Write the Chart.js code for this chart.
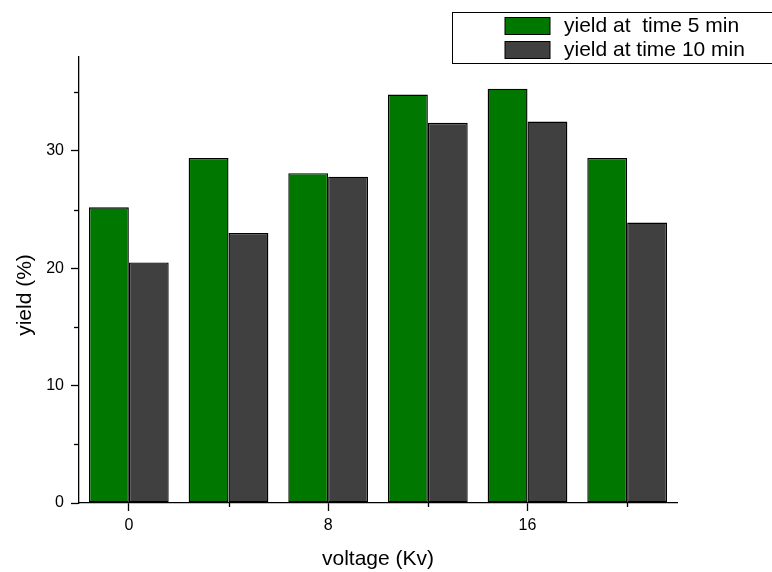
<!DOCTYPE html>
<html>
<head>
<meta charset="utf-8">
<script src="https://cdn.jsdelivr.net/npm/chart.js@4/dist/chart.umd.min.js"></script>
<style>
  html, body { margin: 0; padding: 0; background: #fff; }
  #wrap { width: 772px; height: 572px; }
</style>
</head>
<body>
<div id="wrap"><canvas id="yieldChart" width="772" height="572"></canvas></div>
<script>
// voltage categories (Kv) and yields (%)
const voltages = ['0', '4', '8', '12', '16', '20'];
const yield5min = [25.2, 29.4, 28.1, 34.8, 35.3, 29.4];
const yield10min = [20.5, 23.0, 27.8, 32.4, 32.5, 23.9];
const seriesLabels = ['yield at  time 5 min', 'yield at time 10 min'];
const seriesColors = ['#007800', '#404040'];
const yTicks = [0, 5, 10, 15, 20, 25, 30, 35];

const FONT = '"Liberation Sans", Arial, sans-serif';

// minor tick marks, box legend and y title
const extras = {
  id: 'extras',
  afterDraw(chart) {
    const ctx = chart.ctx;
    const x = chart.scales.x, y = chart.scales.y;
    ctx.save();
    ctx.strokeStyle = '#000';
    ctx.lineWidth = 1.3;
    // minor y ticks
    yTicks.forEach(v => {
      if (v % 10 === 0) return;
      const py = Math.round(y.getPixelForValue(v)) + 0.5;
      ctx.beginPath();
      ctx.moveTo(x.left - 5, py);
      ctx.lineTo(x.left, py);
      ctx.stroke();
    });
    // minor x ticks
    voltages.forEach((v, i) => {
      if (i % 2 === 0) return;
      const px = Math.round(x.getPixelForValue(i)) + 0.5;
      ctx.beginPath();
      ctx.moveTo(px, y.bottom);
      ctx.lineTo(px, y.bottom + 4);
      ctx.stroke();
    });

    // legend box
    ctx.lineWidth = 1;
    ctx.strokeStyle = '#000';
    ctx.strokeRect(452.5, 12.5, 340, 51);
    ctx.font = '21px ' + FONT;
    ctx.textBaseline = 'middle';
    ctx.textAlign = 'left';
    chart.data.datasets.forEach((ds, i) => {
      const top = 17.5 + i * 24;
      ctx.fillStyle = ds.backgroundColor;
      ctx.fillRect(505, top, 45, 17);
      ctx.strokeStyle = '#000';
      ctx.strokeRect(505, top, 45, 17);
      ctx.fillStyle = '#000';
      ctx.fillText(ds.label, 564, top + 9);
    });

    // y axis title
    ctx.translate(25, 295);
    ctx.rotate(-Math.PI / 2);
    ctx.textAlign = 'center';
    ctx.fillText('yield (%)', 0, 0);
    ctx.restore();
  }
};

new Chart(document.getElementById('yieldChart'), {
  type: 'bar',
  data: {
    labels: voltages,
    datasets: [
      {
        label: seriesLabels[0],
        data: yield5min,
        backgroundColor: seriesColors[0],
        borderColor: '#000',
        borderWidth: 1.4,
        borderSkipped: false,
        categoryPercentage: 0.8,
        barPercentage: 1.0
      },
      {
        label: seriesLabels[1],
        data: yield10min,
        backgroundColor: seriesColors[1],
        borderColor: '#000',
        borderWidth: 1.4,
        borderSkipped: false,
        categoryPercentage: 0.8,
        barPercentage: 1.0
      }
    ]
  },
  options: {
    responsive: false,
    animation: false,
    devicePixelRatio: 1,
    layout: { padding: { top: 57, right: 95, bottom: 0, left: 0 } },
    plugins: {
      legend: { display: false },
      tooltip: { enabled: false }
    },
    scales: {
      x: {
        grid: {
          display: true,
          offset: false,
          drawOnChartArea: false,
          tickLength: 8,
          tickWidth: 1.3,
          tickColor: c => (c.index % 2 === 0 ? '#000' : 'rgba(0,0,0,0)')
        },
        border: { display: true, color: '#000', width: 1.3 },
        ticks: {
          color: '#000',
          font: { family: FONT, size: 16 },
          padding: 5,
          maxRotation: 0,
          autoSkip: false,
          callback: (v, i) => (i % 2 === 0 ? voltages[i] : '')
        },
        title: {
          display: true,
          text: 'voltage (Kv)',
          color: '#000',
          font: { family: FONT, size: 21 },
          padding: { top: 0, bottom: 0 }
        },
        afterFit: s => { s.height = 69; }
      },
      y: {
        min: 0,
        max: 38,
        grid: {
          display: true,
          drawOnChartArea: false,
          tickLength: 8,
          tickWidth: 1.3,
          tickColor: c => (c.tick && c.tick.value % 10 === 0 ? '#000' : 'rgba(0,0,0,0)')
        },
        border: { display: true, color: '#000', width: 1.3 },
        ticks: {
          color: '#000',
          font: { family: FONT, size: 16 },
          padding: 7,
          callback: v => (v % 10 === 0 ? String(v) : '')
        },
        afterBuildTicks: s => { s.ticks = yTicks.map(v => ({ value: v })); },
        afterFit: s => { s.width = 79; }
      }
    }
  },
  plugins: [extras]
});
</script>
</body>
</html>
